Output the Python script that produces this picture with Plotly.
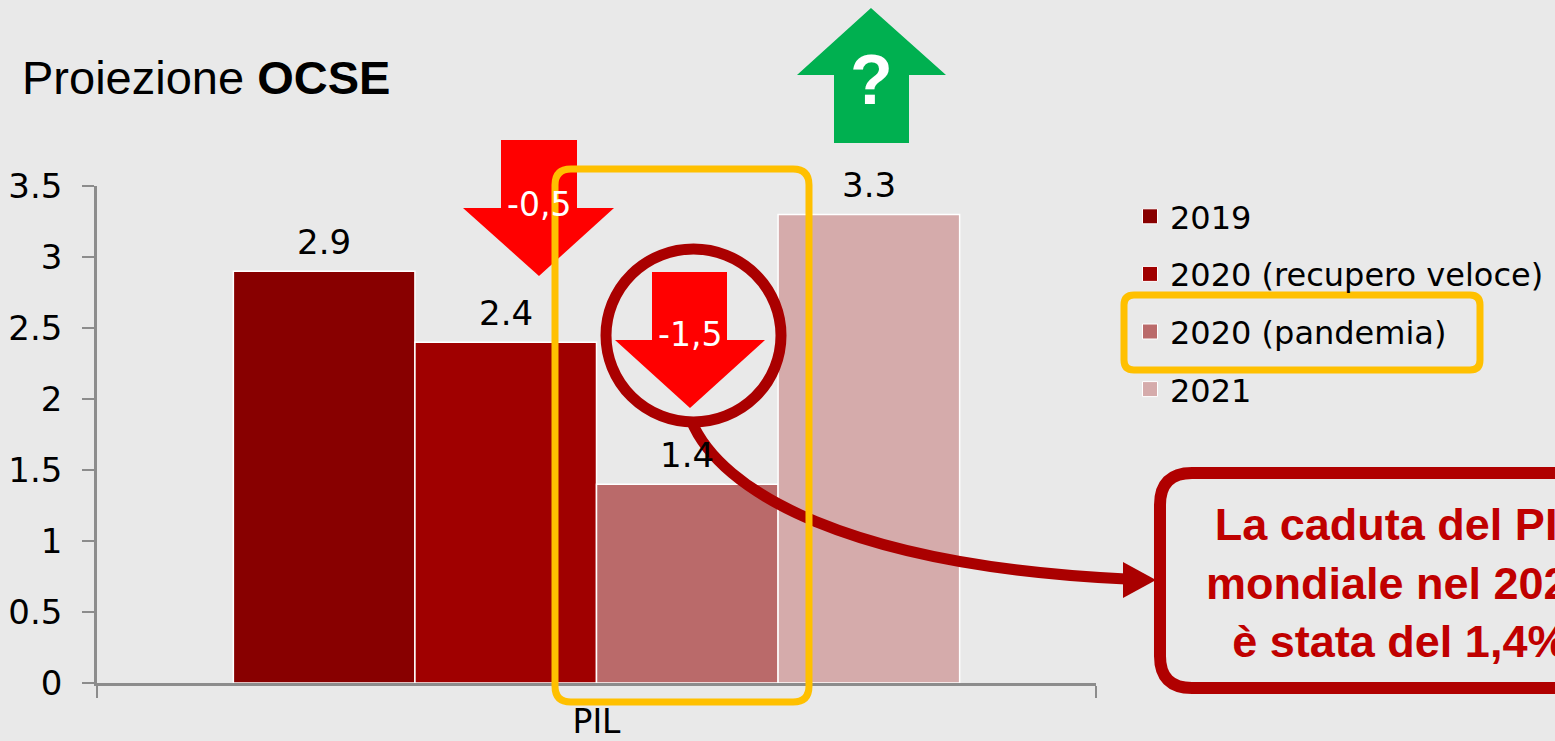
import plotly.graph_objects as go

# ---------------- data ----------------
categories = ["PIL"]
series_names = ["2019", "2020 (recupero veloce)", "2020 (pandemia)", "2021"]
series_values = [2.9, 2.4, 1.4, 3.3]
series_colors = ["#880000", "#A00000", "#BA6A6A", "#D5ABAB"]
y_ticks = [0, 0.5, 1, 1.5, 2, 2.5, 3, 3.5]
y_tick_labels = ["0", "0.5", "1", "1.5", "2", "2.5", "3", "3.5"]
title_plain = "Proiezione "
title_bold = "OCSE"
arrow_labels = ["-0,5", "-1,5", "?"]
callout_lines = ["La caduta del PIL", "mondiale nel 2020", "è stata del 1,4%"]

# ---------------- geometry helpers (decorations only) ----------------
W, H = 1555, 741
PL, PR, PT, PB = 97, 1096, 186, 683  # plot area in pixels


def P(x, y):
    return (x - PL) / (PR - PL), (PB - y) / (PB - PT)


def fmt(x, y):
    a, b = P(x, y)
    return f"{a:.5f},{b:.5f}"


def poly(pts):
    s = ""
    for i, (x, y) in enumerate(pts):
        s += ("M" if i == 0 else "L") + fmt(x, y) + " "
    return s + "Z"


def rrect(x0, y0, x1, y1, r):
    p = fmt
    return (f"M{p(x0 + r, y0)} L{p(x1 - r, y0)} Q{p(x1, y0)} {p(x1, y0 + r)} "
            f"L{p(x1, y1 - r)} Q{p(x1, y1)} {p(x1 - r, y1)} L{p(x0 + r, y1)} "
            f"Q{p(x0, y1)} {p(x0, y1 - r)} L{p(x0, y0 + r)} Q{p(x0, y0)} {p(x0 + r, y0)} Z")


def curve(pts):
    a, b, c, d = pts
    return f"M{fmt(*a)} C{fmt(*b)} {fmt(*c)} {fmt(*d)}"


CHART_FONT = "DejaVu Sans, Verdana, sans-serif"
ARIAL = "Arial, Liberation Sans, sans-serif"

fig = go.Figure()
for name, val, col in zip(series_names, series_values, series_colors):
    fig.add_trace(go.Bar(
        x=categories, y=[val], name=name, legendgroup=name, showlegend=False,
        marker=dict(color=col, line=dict(color="white", width=1.5)),
        hoverinfo="skip",
    ))
# legend entries with larger square swatches
for name, col in zip(series_names, series_colors):
    fig.add_trace(go.Scatter(
        x=[None], y=[None], mode="markers", name=name, legendgroup=name,
        marker=dict(symbol="square", size=15, color=col,
                    line=dict(color="white", width=1)),
        hoverinfo="skip",
    ))

bargap = 0.273
n = len(series_values)
bw = (1 - bargap) / n
annotations = []
for i, val in enumerate(series_values):
    annotations.append(dict(
        x=(i - (n - 1) / 2) * bw, y=val, xref="x", yref="y",
        text=f"{val}", showarrow=False, yanchor="middle", yshift=29,
        font=dict(family=CHART_FONT, size=34, color="black"),
    ))

# title
tx, ty = P(20, 77)
annotations.append(dict(
    x=tx, y=ty, xref="paper", yref="paper", xanchor="left", yanchor="middle",
    text=f"{title_plain}<b>{title_bold}</b>", showarrow=False,
    font=dict(family=ARIAL, size=47, color="black"),
))

# arrow labels
for (lx, ly), lab, sz, bold in [((539, 204), arrow_labels[0], 33, False),
                                 ((690, 334), arrow_labels[1], 33, False),
                                 ((871, 80), arrow_labels[2], 70, True)]:
    ax_, ay_ = P(lx, ly)
    annotations.append(dict(
        x=ax_, y=ay_, xref="paper", yref="paper", xanchor="center", yanchor="middle",
        text=f"<b>{lab}</b>" if bold else lab, showarrow=False,
        font=dict(family=ARIAL if bold else CHART_FONT, size=sz, color="white"),
    ))

# callout text
cx, cy = P(1400, 583)
annotations.append(dict(
    x=cx, y=cy, xref="paper", yref="paper", xanchor="center", yanchor="middle",
    text="<br>".join(f"<b>{t}</b>" for t in callout_lines), showarrow=False,
    align="center", font=dict(family=ARIAL, size=45, color="#C00000"),
))

shapes = []
# red arrow -0,5
shapes.append(dict(type="path", xref="paper", yref="paper", layer="above",
                   path=poly([(501, 140), (577, 140), (577, 208), (614, 208), (539, 276),
                              (463, 208), (501, 208)]),
                   fillcolor="#FF0000", line=dict(width=0)))
# circle
c0 = P(606, 249)
c1 = P(781, 422)
shapes.append(dict(type="circle", xref="paper", yref="paper", layer="above",
                   x0=c0[0], y0=c1[1], x1=c1[0], y1=c0[1],
                   line=dict(color="#AA0000", width=11), fillcolor="rgba(0,0,0,0)"))
# red arrow -1,5
shapes.append(dict(type="path", xref="paper", yref="paper", layer="above",
                   path=poly([(652, 272), (727, 272), (727, 340), (765, 340), (690, 408),
                              (615, 340), (652, 340)]),
                   fillcolor="#FF0000", line=dict(width=0)))
# curved connector
shapes.append(dict(type="path", xref="paper", yref="paper", layer="above",
                   path=curve([(691, 420), (720, 492), (850, 566), (1126, 579)]),
                   line=dict(color="#AA0000", width=11)))
shapes.append(dict(type="path", xref="paper", yref="paper", layer="above",
                   path=poly([(1123, 562), (1156, 580), (1123, 598)]),
                   fillcolor="#AA0000", line=dict(width=0)))
# yellow highlight around pandemia bar
shapes.append(dict(type="path", xref="paper", yref="paper", layer="above",
                   path=rrect(555, 169, 809, 702, 16),
                   line=dict(color="#FFC000", width=7)))
# yellow highlight around legend entry
shapes.append(dict(type="path", xref="paper", yref="paper", layer="above",
                   path=rrect(1124, 295, 1480, 370, 10),
                   line=dict(color="#FFC000", width=7)))
# green arrow
shapes.append(dict(type="path", xref="paper", yref="paper", layer="above",
                   path=poly([(871, 8), (946, 75), (909, 75), (909, 143), (834, 143),
                              (834, 75), (797, 75)]),
                   fillcolor="#00B050", line=dict(width=0)))
# callout box
shapes.append(dict(type="path", xref="paper", yref="paper", layer="above",
                   path=rrect(1160, 473, 1660, 688, 32),
                   line=dict(color="#B00000", width=12)))

lx, ly = P(1130, 189)
fig.update_layout(
    width=W, height=H, autosize=False,
    margin=dict(l=PL, r=W - PR, t=PT, b=H - PB, pad=0, autoexpand=False),
    paper_bgcolor="#E9E9E9", plot_bgcolor="#E9E9E9",
    barmode="group", bargap=bargap, bargroupgap=0,
    showlegend=True,
    legend=dict(x=lx, y=ly, xanchor="left", yanchor="top",
                font=dict(family=CHART_FONT, size=32, color="black"),
                tracegroupgap=13, bgcolor="rgba(0,0,0,0)", traceorder="grouped",
                itemclick=False, itemdoubleclick=False),
    xaxis=dict(showgrid=False, zeroline=False, showline=True, linecolor="#8C8C8C",
               linewidth=2.5, ticks="outside", tickson="boundaries", ticklen=12,
               tickcolor="#8C8C8C", tickwidth=2, ticklabelstandoff=8, automargin=False,
               tickfont=dict(family=CHART_FONT, size=33, color="black"),
               range=[-0.5, 0.5], fixedrange=True),
    yaxis=dict(range=[0, 3.5], tickvals=y_ticks, ticktext=y_tick_labels,
               showgrid=False, zeroline=False, showline=True, linecolor="#8C8C8C",
               linewidth=2.5, ticks="outside", ticklen=12, tickcolor="#8C8C8C",
               tickwidth=2, ticklabelstandoff=13, automargin=False,
               tickfont=dict(family=CHART_FONT, size=34, color="black"),
               fixedrange=True),
    annotations=annotations, shapes=shapes,
)

fig.write_html("out.html", config={"displayModeBar": False},
               post_script="document.body.style.margin='0px';")
